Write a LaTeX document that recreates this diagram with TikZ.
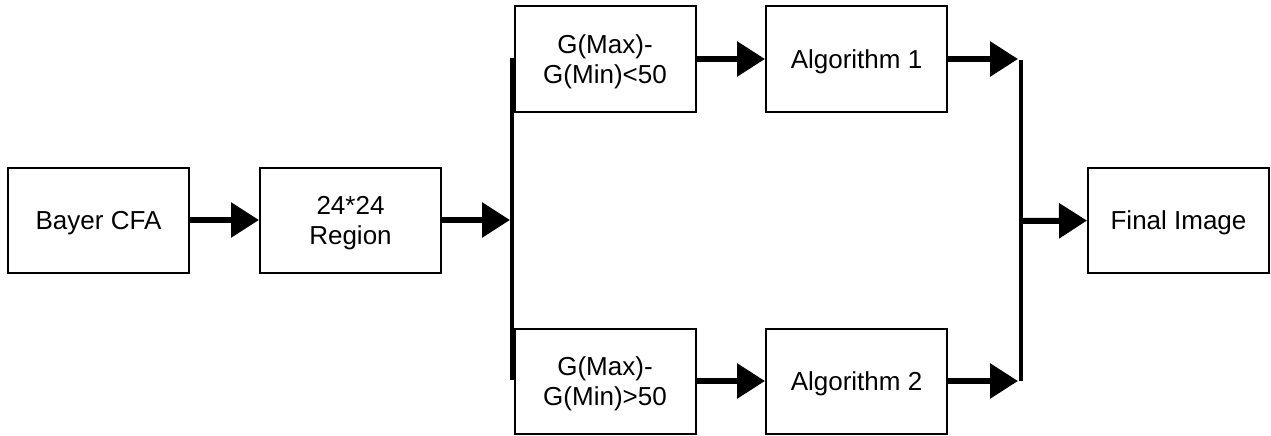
\documentclass[tikz,border=0pt]{standalone}
\usepackage{fontspec}
\setmainfont{Liberation Sans}
\usetikzlibrary{arrows.meta}
\usetikzlibrary{positioning}

\begin{document}
\begin{tikzpicture}
[blk/.style={rectangle, draw=black, line width=2pt, minimum width=181pt, minimum height=105pt, align=center, text depth=0pt, font=\fontsize{26pt}{30pt}\selectfont},
 flow/.style={line width=6pt, -{Triangle[length=28pt, width=34pt]}},
 bar/.style={line width=4.5pt}]
\useasboundingbox (0pt, 0pt) rectangle (1271pt, -436pt);
\node (cfa) [blk] at (98.5pt, -220pt) {Bayer CFA};
\node (region) [blk] at (350.5pt, -220pt) {24*24\\Region};
\node (g1) [blk] at (605pt, -59pt) {G(Max)-\\G(Min)<50};
\node (g2) [blk] at (605pt, -381pt) {G(Max)-\\G(Min)>50};
\node (alg1) [blk] at (856.5pt, -59pt) {Algorithm 1};
\node (alg2) [blk] at (856.5pt, -381pt) {Algorithm 2};
\node (final) [blk] at (1178.5pt, -220pt) {Final Image};
\coordinate (splitT) at (512pt, -58pt);
\coordinate (splitB) at (512pt, -380pt);
\coordinate (splitIn) at (510pt, -220pt);
\coordinate (joinT) at (1021pt, -60pt);
\coordinate (joinB) at (1021pt, -381pt);
\coordinate (joinOut) at (1021pt, -221pt);
\coordinate (inT) at (1018pt, -59pt);
\coordinate (inB) at (1018pt, -381pt);
\draw [bar] (splitT) to (splitB);
\draw [bar] (joinT) to (joinB);
\draw [flow] (cfa) to (region);
\draw [flow] (region) to (splitIn);
\draw [flow] (g1) to (alg1);
\draw [flow] (g2) to (alg2);
\draw [flow] (alg1) to (inT);
\draw [flow] (alg2) to (inB);
\draw [flow] (joinOut) to (final);
\end{tikzpicture}
\end{document}
